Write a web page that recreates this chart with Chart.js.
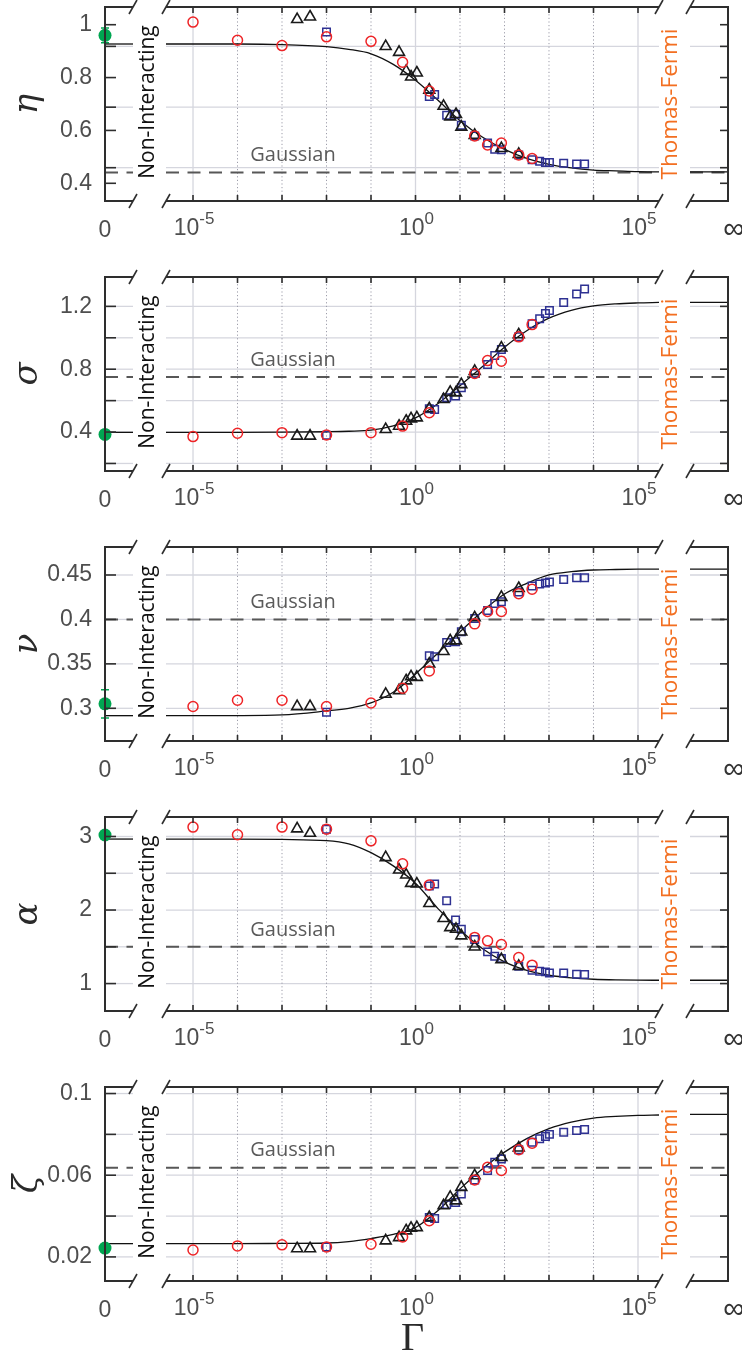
<!DOCTYPE html>
<html><head><meta charset="utf-8">
<script src="https://cdn.jsdelivr.net/npm/chart.js@4.4.1/dist/chart.umd.min.js"></script>
<style>
html,body{margin:0;padding:0;background:#fff;overflow:hidden;width:742px;height:1361px;}
#wrap{position:relative;width:742px;height:1361px;overflow:hidden;background:#fff;}
canvas{position:absolute;left:0;}
</style></head><body><div id="wrap"></div>
<script>
// ---------------- DATA ----------------
// Γ positions, as log10(Γ)
const redGammaExp   = [-5, -4, -3, -2, -1, -0.29, 0.31, 1.33, 1.62, 1.93, 2.32, 2.62];
const triGammaExp   = [-2.66, -2.37, -0.67, -0.37, -0.21, -0.10, 0.03, 0.31, 0.63, 0.78, 0.91, 1.03, 1.33, 1.93, 2.32];
const sqGammaExp    = [-2, 0.31, 0.43, 0.70, 0.90, 1.03, 1.33, 1.62, 1.78, 1.93, 2.32, 2.62, 2.79, 2.92, 3.01, 3.33, 3.62, 3.80];
const curveGammaExp = [-5.607, -4, -3, -2, -1.5, -1, -0.5, 0, 0.5, 1, 1.5, 2, 2.5, 3, 3.5, 4, 4.5, 5, 5.472];
const decadeExp     = [-5, -4, -3, -2, -1, 0, 1, 2, 3, 4, 5];
const xTickExp      = [-5, 0, 5];
const xTickBase     = '10';
const xTickExpLabels = ['-5', '0', '5'];
const zeroTickLabel = '0';
const infTickLabel  = '\u221E';

// eta
const etaRed   = [1.01, 0.941, 0.921, 0.954, 0.937, 0.858, 0.749, 0.579, 0.545, 0.552, 0.507, 0.494];
const etaTri   = [1.02, 1.03, 0.918, 0.896, 0.824, 0.803, 0.818, 0.753, 0.692, 0.652, 0.661, 0.613, 0.582, 0.532, 0.510];
const etaSq    = [0.972, 0.728, 0.736, 0.657, 0.661, 0.620, 0.579, 0.552, 0.529, 0.527, 0.507, 0.489, 0.483, 0.479, 0.479, 0.476, 0.473, 0.473];
const etaCurve = [0.927, 0.927, 0.925, 0.917, 0.907, 0.89, 0.85, 0.79, 0.715, 0.637, 0.575, 0.528, 0.494, 0.472, 0.458, 0.45, 0.447, 0.444, 0.443];
const etaNI = 0.927, etaTF = 0.443, etaGauss = 0.441, etaExp = 0.96, etaErr = 0.028;
const etaTicks = [0.4, 0.6, 0.8, 1], etaTickLabels = ['0.4', '0.6', '0.8', '1'];
const etaGrid  = [0.459, 0.688, 0.918];

// sigma
const sigmaRed   = [0.371, 0.392, 0.396, 0.381, 0.396, 0.438, 0.523, 0.773, 0.855, 0.851, 1.006, 1.084];
const sigmaTri   = [0.375, 0.375, 0.417, 0.438, 0.47, 0.485, 0.491, 0.549, 0.608, 0.654, 0.65, 0.703, 0.787, 0.936, 1.02];
const sigmaSq    = [0.379, 0.549, 0.544, 0.618, 0.629, 0.682, 0.773, 0.83, 0.887, 0.925, 1.006, 1.09, 1.122, 1.154, 1.173, 1.225, 1.279, 1.31];
const sigmaCurve = [0.398, 0.398, 0.399, 0.402, 0.405, 0.412, 0.44, 0.49, 0.58, 0.695, 0.815, 0.94, 1.045, 1.125, 1.175, 1.203, 1.216, 1.222, 1.225];
const sigmaNI = 0.398, sigmaTF = 1.225, sigmaGauss = 0.75, sigmaExp = 0.385, sigmaErr = 0;
const sigmaTicks = [0.4, 0.8, 1.2], sigmaTickLabels = ['0.4', '0.8', '1.2'];
const sigmaGrid  = [0.2, 0.4, 0.6, 0.8, 1.0, 1.2];

// nu
const nuRed   = [0.302, 0.309, 0.309, 0.302, 0.306, 0.3225, 0.342, 0.395, 0.409, 0.409, 0.429, 0.434];
const nuTri   = [0.302, 0.302, 0.316, 0.32, 0.331, 0.3356, 0.335, 0.35, 0.364, 0.376, 0.376, 0.386, 0.402, 0.425, 0.435];
const nuSq    = [0.2955, 0.359, 0.358, 0.374, 0.375, 0.386, 0.401, 0.41, 0.418, 0.42, 0.431, 0.4376, 0.44, 0.441, 0.442, 0.445, 0.447, 0.447];
const nuCurve = [0.2917, 0.2918, 0.2925, 0.297, 0.3, 0.306, 0.318, 0.3386, 0.362, 0.386, 0.409, 0.4286, 0.4406, 0.45, 0.4537, 0.4556, 0.4562, 0.4566, 0.4567];
const nuNI = 0.2917, nuTF = 0.4567, nuGauss = 0.4, nuExp = 0.305, nuErr = 0.016;
const nuTicks = [0.3, 0.35, 0.4, 0.45], nuTickLabels = ['0.3', '0.35', '0.4', '0.45'];
const nuGrid  = [0.3, 0.35, 0.4, 0.45];

// alpha
const alphaRed   = [3.128, 3.023, 3.128, 3.10, 2.941, 2.628, 2.34, 1.628, 1.581, 1.532, 1.355, 1.25];
const alphaTri   = [3.105, 3.046, 2.714, 2.546, 2.478, 2.364, 2.355, 2.09, 1.887, 1.763, 1.74, 1.65, 1.50, 1.327, 1.236];
const alphaSq    = [3.10, 2.327, 2.355, 2.127, 1.864, 1.737, 1.60, 1.431, 1.372, 1.341, 1.236, 1.182, 1.168, 1.159, 1.145, 1.145, 1.127, 1.123];
const alphaCurve = [2.965, 2.965, 2.96, 2.945, 2.9, 2.78, 2.6, 2.364, 2.023, 1.727, 1.477, 1.295, 1.18, 1.113, 1.077, 1.059, 1.05, 1.046, 1.045];
const alphaNI = 2.965, alphaTF = 1.045, alphaGauss = 1.5, alphaExp = 3.02, alphaErr = 0;
const alphaTicks = [1, 2, 3], alphaTickLabels = ['1', '2', '3'];
const alphaGrid  = [1, 1.5, 2, 2.5, 3];

// zeta
const zetaRed   = [0.0234, 0.0254, 0.0259, 0.0249, 0.0262, 0.0298, 0.0377, 0.0577, 0.0639, 0.0623, 0.0725, 0.0757];
const zetaTri   = [0.0241, 0.0241, 0.0279, 0.0295, 0.0328, 0.0341, 0.0344, 0.0393, 0.0451, 0.0492, 0.0475, 0.0541, 0.0598, 0.0688, 0.0734];
const zetaSq    = [0.0249, 0.0393, 0.0388, 0.0456, 0.0467, 0.0508, 0.0577, 0.0623, 0.0664, 0.068, 0.0725, 0.0762, 0.0779, 0.079, 0.08, 0.0811, 0.0819, 0.0824];
const zetaCurve = [0.0265, 0.0265, 0.0266, 0.0268, 0.0275, 0.029, 0.031, 0.0344, 0.0426, 0.0533, 0.0631, 0.0713, 0.0779, 0.0828, 0.086, 0.088, 0.0888, 0.0893, 0.0895];
const zetaNI = 0.0265, zetaTF = 0.0898, zetaGauss = 0.0637, zetaExp = 0.0243, zetaErr = 0;
const zetaTicks = [0.02, 0.06, 0.1], zetaTickLabels = ['0.02', '0.06', '0.1'];
const zetaGrid  = [0.02, 0.04, 0.06, 0.08, 0.1];

const annotNI = 'Non-Interacting', annotTF = 'Thomas-Fermi', annotG = 'Gaussian';

// ---------------- PANELS ----------------
const panels = [
  {sym:'\u03B7', red:etaRed, tri:etaTri, sq:etaSq, curve:etaCurve, ni:etaNI, tf:etaTF, gauss:etaGauss, exp:etaExp, err:etaErr, ticks:etaTicks, labels:etaTickLabels, grid:etaGrid, yMin:0.333, yMax:1.067, top:7},
  {sym:'\u03C3', red:sigmaRed, tri:sigmaTri, sq:sigmaSq, curve:sigmaCurve, ni:sigmaNI, tf:sigmaTF, gauss:sigmaGauss, exp:sigmaExp, err:sigmaErr, ticks:sigmaTicks, labels:sigmaTickLabels, grid:sigmaGrid, yMin:0.152, yMax:1.387, top:277},
  {sym:'\u03BD', red:nuRed, tri:nuTri, sq:nuSq, curve:nuCurve, ni:nuNI, tf:nuTF, gauss:nuGauss, exp:nuExp, err:nuErr, ticks:nuTicks, labels:nuTickLabels, grid:nuGrid, yMin:0.2632, yMax:0.4815, top:547},
  {sym:'\u03B1', red:alphaRed, tri:alphaTri, sq:alphaSq, curve:alphaCurve, ni:alphaNI, tf:alphaTF, gauss:alphaGauss, exp:alphaExp, err:alphaErr, ticks:alphaTicks, labels:alphaTickLabels, grid:alphaGrid, yMin:0.627, yMax:3.265, top:817},
  {sym:'\u03B6', red:zetaRed, tri:zetaTri, sq:zetaSq, curve:zetaCurve, ni:zetaNI, tf:zetaTF, gauss:zetaGauss, exp:zetaExp, err:zetaErr, ticks:zetaTicks, labels:zetaTickLabels, grid:zetaGrid, yMin:0.0082, yMax:0.1032, top:1087}
];

// ---------------- STYLE / LAYOUT ----------------
const CW = 800;
const L_LEFT = 105, L_RIGHT = 133, M_LEFT = 166, M_RIGHT = 659, R_LEFT = 690, R_RIGHT = 728;
const PLOT_H = 194, PAD_T = 30;
const GRID = '#d5d6de', DOT = '#9d9daa', FRAME = '#2e2e2e';
const SANS = '"Liberation Sans", Arial, sans-serif';
const TICKFONT = {family:SANS, size:23};
const TICKCOL = '#4e4e4e';
const ANNFONT = '"Open Sans", "Liberation Sans", sans-serif';
const xMinMain = Math.pow(10, -5.607), xMaxMain = Math.pow(10, 5.472);
const TRANSP = 'rgba(0,0,0,0)';

function pts(exps, vals){ return exps.map((e,i)=>({x:Math.pow(10,e), y:vals[i]})); }

const framePlugin = {
  id:'frame',
  beforeDatasetsDraw(chart, args, o){
    const {ctx, chartArea:a, scales:{x, y}} = chart;
    ctx.save();
    ctx.strokeStyle = GRID; ctx.lineWidth = 1.3;
    o.grid.forEach(v=>{ const py = y.getPixelForValue(v); ctx.beginPath(); ctx.moveTo(a.left, py); ctx.lineTo(a.right, py); ctx.stroke(); });
    if (o.side === 'main'){
      decadeExp.forEach(e=>{
        const px = x.getPixelForValue(Math.pow(10,e));
        ctx.beginPath();
        if (e % 5 === 0){ ctx.setLineDash([]); ctx.strokeStyle = GRID; ctx.lineWidth = 1.3; }
        else { ctx.setLineDash([1.2, 2.4]); ctx.strokeStyle = DOT; ctx.lineWidth = 1; }
        ctx.moveTo(px, a.top); ctx.lineTo(px, a.bottom); ctx.stroke();
      });
      ctx.setLineDash([]);
    }
    if (o.side === 'left' && o.err > 0){
      const px = x.getPixelForValue(0), y1 = y.getPixelForValue(o.exp - o.err), y2 = y.getPixelForValue(o.exp + o.err);
      ctx.strokeStyle = '#00a651'; ctx.lineWidth = 1.5;
      ctx.beginPath(); ctx.moveTo(px, y1); ctx.lineTo(px, y2);
      ctx.moveTo(px-4, y1); ctx.lineTo(px+4, y1); ctx.moveTo(px-4, y2); ctx.lineTo(px+4, y2); ctx.stroke();
    }
    ctx.restore();
  },
  afterDatasetsDraw(chart, args, o){
    const {ctx, chartArea:a, scales:{x, y}} = chart;
    ctx.save();
    ctx.strokeStyle = FRAME; ctx.lineWidth = 2;
    const seg = (x1,y1,x2,y2)=>{ ctx.beginPath(); ctx.moveTo(x1,y1); ctx.lineTo(x2,y2); ctx.stroke(); };
    seg(a.left, a.top, a.right, a.top); seg(a.left, a.bottom, a.right, a.bottom);
    const marks = Array.from(new Set(o.ticks.concat(o.grid)));
    ctx.lineWidth = 1.6;
    if (o.side === 'left'){
      ctx.lineWidth = 2; seg(a.left, a.top - 1, a.left, a.bottom + 1); ctx.lineWidth = 1.6;
      marks.forEach(v=>{ const py = y.getPixelForValue(v); seg(a.left, py, a.left + 11, py); });
    }
    if (o.side === 'right'){
      ctx.lineWidth = 2; seg(a.right, a.top - 1, a.right, a.bottom + 1); ctx.lineWidth = 1.6;
      marks.forEach(v=>{ const py = y.getPixelForValue(v); seg(a.right - 8, py, a.right, py); });
    }
    if (o.side === 'main'){
      decadeExp.forEach(e=>{ const px = x.getPixelForValue(Math.pow(10,e)); seg(px, a.top, px, a.top + 6); seg(px, a.bottom - 6, px, a.bottom); });
    }
    ctx.lineWidth = 1.6;
    o.breaks.forEach(b=>{
      const X = b === 'left' ? a.left : a.right;
      seg(X - 4, a.top + 7, X + 4, a.top - 7);
      seg(X - 4, a.bottom + 7, X + 4, a.bottom - 7);
    });
    if (o.side === 'main'){
      // decade tick labels: 10 with superscript exponent, placed by the x scale
      ctx.fillStyle = TICKCOL; ctx.textAlign = 'left'; ctx.textBaseline = 'alphabetic';
      const by = a.bottom + 34;
      xTickExp.forEach((e, k)=>{
        const px = x.getPixelForValue(Math.pow(10, e));
        ctx.font = '23px ' + SANS; const w1 = ctx.measureText(xTickBase).width;
        ctx.font = '17px ' + SANS; const w2 = ctx.measureText(xTickExpLabels[k]).width;
        const x0 = px - (w1 + w2) / 2 + 1;
        ctx.font = '23px ' + SANS; ctx.fillText(xTickBase, x0, by);
        ctx.font = '17px ' + SANS; ctx.fillText(xTickExpLabels[k], x0 + w1, by - 11);
      });
      const mid = (a.top + a.bottom) / 2;
      ctx.textAlign = 'center'; ctx.textBaseline = 'middle';
      ctx.font = '20px ' + ANNFONT; ctx.fillStyle = '#5a5a5a';
      ctx.fillText(annotG, a.left + 127, y.getPixelForValue(o.gauss) - 17);
      ctx.save(); ctx.translate(a.left - 18, mid - 2); ctx.rotate(-Math.PI/2);
      ctx.font = '21px ' + ANNFONT; ctx.fillStyle = '#111'; ctx.fillText(annotNI, 0, 0); ctx.restore();
      ctx.save(); ctx.translate(a.right + 12, mid); ctx.rotate(-Math.PI/2);
      ctx.font = '22.5px ' + ANNFONT; ctx.fillStyle = '#f36f21'; ctx.fillText(annotTF, 0, 0); ctx.restore();
    }
    ctx.restore();
  }
};

const wrap = document.getElementById('wrap');
function makeCanvas(top, h){
  const c = document.createElement('canvas');
  c.width = CW; c.height = h; c.style.width = CW + 'px'; c.style.height = h + 'px'; c.style.top = top + 'px';
  wrap.appendChild(c); return c;
}
function baseOptions(pad, xs, ys, fo){
  return {responsive:false, animation:false, devicePixelRatio:1, events:[],
    layout:{padding:pad}, plugins:{legend:{display:false}, tooltip:{enabled:false}, frame:fo},
    scales:{x:xs, y:ys}};
}
const hiddenY = p => ({type:'linear', display:false, min:p.yMin, max:p.yMax});

panels.forEach((p, i)=>{
  const last = i === panels.length - 1;
  const xH = last ? 90 : 50;
  const H = PAD_T + PLOT_H + xH;
  const cTop = p.top - PAD_T;
  const common = {grid:p.grid, ticks:p.ticks, gauss:p.gauss, exp:p.exp, err:p.err};

  // ---- left ("0") segment ----
  new Chart(makeCanvas(cTop, H), {
    type:'scatter',
    data:{datasets:[
      {data:[{x:0, y:p.exp}], pointStyle:'circle', pointRadius:6.5, backgroundColor:'#00a651', borderColor:'#00a651', borderWidth:0, clip:false},
      {type:'line', data:[{x:0, y:p.ni},{x:1, y:p.ni}], borderColor:'#111', borderWidth:1.3, pointRadius:0},
      {type:'line', data:[{x:0, y:p.gauss},{x:1, y:p.gauss}], borderColor:'#575757', borderWidth:2, borderDash:[13,8.5], pointRadius:0}
    ]},
    options: baseOptions({top:PAD_T, left:0, right:CW - L_RIGHT, bottom:0},
      {type:'linear', min:0, max:1, grid:{display:false, drawTicks:false}, border:{display:false},
       afterBuildTicks:s=>{ s.ticks = [{value:0}]; },
       ticks:{autoSkip:false, maxRotation:0, padding:16, color:TICKCOL, font:TICKFONT, callback:()=>zeroTickLabel},
       afterFit:s=>{ s.height = xH; }},
      {type:'linear', position:'left', min:p.yMin, max:p.yMax, grid:{display:false, drawTicks:false}, border:{display:false},
       afterBuildTicks:s=>{ s.ticks = p.ticks.map(v=>({value:v})); },
       ticks:{autoSkip:false, padding:13, color:TICKCOL, font:TICKFONT, callback:(v, idx)=>p.labels[idx]},
       title:{display:true, text:p.sym, color:'#2a2a2a', font:{family:'"DejaVu Serif", "Liberation Serif", serif', style:'italic', size:34}, padding:{top:8, bottom:0}},
       afterFit:s=>{ s.width = L_LEFT; }},
      Object.assign({side:'left', breaks:['right']}, common)),
    plugins:[framePlugin]
  });

  // ---- main (log) segment ----
  new Chart(makeCanvas(cTop, H), {
    type:'scatter',
    data:{datasets:[
      {data:pts(redGammaExp, p.red), pointStyle:'circle', pointRadius:5, borderColor:'#ee2427', borderWidth:1.5, backgroundColor:TRANSP},
      {data:pts(triGammaExp, p.tri), pointStyle:'triangle', pointRadius:6.3, borderColor:'#1a1a1a', borderWidth:1.6, backgroundColor:TRANSP},
      {data:pts(sqGammaExp, p.sq), pointStyle:'rect', pointRadius:5.3, borderColor:'#2e3192', borderWidth:1.5, backgroundColor:TRANSP},
      {type:'line', data:pts(curveGammaExp, p.curve), borderColor:'#111', borderWidth:1.3, pointRadius:0, cubicInterpolationMode:'monotone'},
      {type:'line', data:[{x:xMinMain, y:p.gauss},{x:xMaxMain, y:p.gauss}], borderColor:'#575757', borderWidth:2, borderDash:[13,8.5], pointRadius:0}
    ]},
    options: baseOptions({top:PAD_T, left:M_LEFT, right:CW - M_RIGHT, bottom:0},
      {type:'logarithmic', min:xMinMain, max:xMaxMain, grid:{display:false, drawTicks:false}, border:{display:false},
       afterBuildTicks:s=>{ s.ticks = xTickExp.map(e=>({value:Math.pow(10,e)})); },
       ticks:{display:false},
       title: last ? {display:true, text:'\u0393', color:'#2a2a2a', font:{family:'"Liberation Serif", "DejaVu Serif", serif', size:40}, padding:{top:0, bottom:8}} : {display:false},
       afterFit:s=>{ s.height = xH; }},
      hiddenY(p),
      Object.assign({side:'main', breaks:['left','right']}, common)),
    plugins:[framePlugin]
  });

  // ---- right ("∞") segment ----
  new Chart(makeCanvas(cTop, H), {
    type:'scatter',
    data:{datasets:[
      {type:'line', data:[{x:0, y:p.tf},{x:1, y:p.tf}], borderColor:'#111', borderWidth:1.3, pointRadius:0},
      {type:'line', data:[{x:0, y:p.gauss},{x:1, y:p.gauss}], borderColor:'#575757', borderWidth:2, borderDash:[13,8.5], pointRadius:0}
    ]},
    options: baseOptions({top:PAD_T, left:R_LEFT, right:CW - R_RIGHT, bottom:0},
      {type:'linear', min:0, max:1, grid:{display:false, drawTicks:false}, border:{display:false},
       afterBuildTicks:s=>{ s.ticks = [{value:1}]; },
       ticks:{autoSkip:false, maxRotation:0, padding:11, labelOffset:6, color:'#333', font:{family:'"Liberation Sans", "DejaVu Sans", sans-serif', size:30}, callback:()=>infTickLabel},
       afterFit:s=>{ s.height = xH; }},
      hiddenY(p),
      Object.assign({side:'right', breaks:['left']}, common)),
    plugins:[framePlugin]
  });
});
</script>
</body></html>
